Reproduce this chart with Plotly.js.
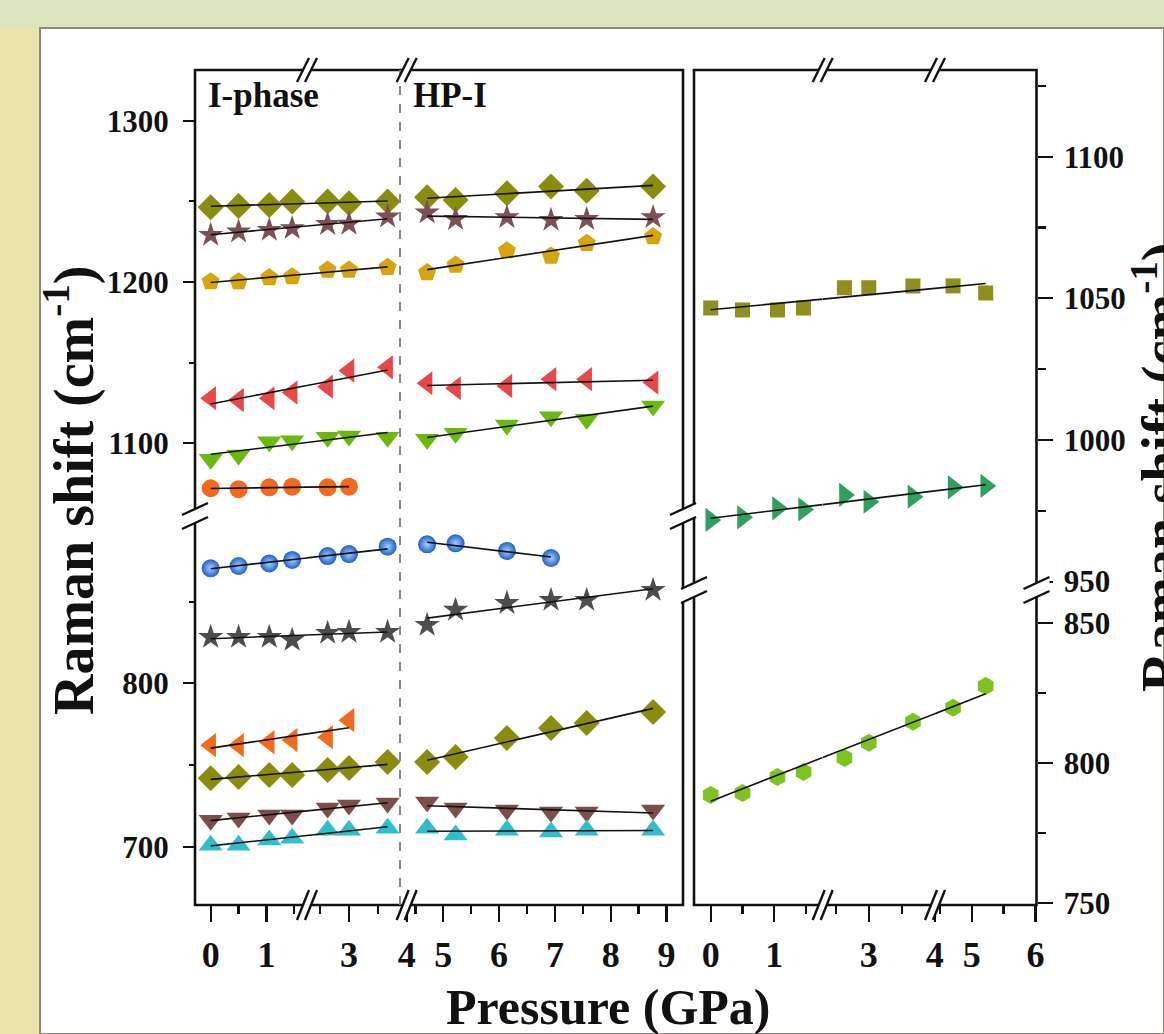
<!DOCTYPE html>
<html><head><meta charset="utf-8">
<script src="https://cdn.plot.ly/plotly-3.0.1.min.js"></script>
<style>html,body{margin:0;padding:0;background:#dde5bf;} #chart{width:1164px;height:1034px;}</style>
</head><body><div id="chart"></div>
<script>
// ---------------- DATA ----------------
// pressures (GPa)
const pI  = [0, 0.5, 1.05, 1.46, 2.63, 3.0, 3.67];          // I-phase
const pHP = [4.71, 5.22, 6.14, 6.93, 7.57, 8.76];           // HP-I
const pR  = [0, 0.5, 1.05, 1.46, 2.63, 3.0, 3.67, 4.71, 5.22]; // right panel

// left panel, upper band (cm-1)
const diamondI   = [1246.3, 1247.1, 1247.7, 1249.8, 1249.8, 1248.8, 1249.8];
const diamondHP  = [1252.5, 1250.8, 1255.0, 1259.1, 1256.6, 1259.1];
const starI      = [1229.1, 1231.2, 1232.2, 1233.3, 1235.8, 1236.0, 1240.5];
const starHP     = [1243.0, 1238.9, 1240.1, 1238.4, 1238.9, 1240.1];
const pentI      = [1200.2, 1200.2, 1202.7, 1203.3, 1207.4, 1207.4, 1209.1];
const pentHP     = [1205.8, 1210.5, 1219.4, 1216.1, 1224.0, 1228.1];
const redTriI    = [1127.9, 1126.8, 1127.9, 1131.4, 1135.1, 1145.0, 1147.1];
const redTriHP   = [1137.2, 1134.1, 1135.5, 1139.7, 1139.7, 1137.6];
const greenTriI  = [1090.1, 1092.7, 1101.0, 1101.6, 1103.7, 1104.5, 1103.7];
const greenTriHP = [1102.5, 1106.2, 1111.3, 1116.5, 1114.9, 1123.1];
const orangeCircI = [1072.1, 1071.5, 1072.7, 1073.1, 1072.7, 1073.1];

// left panel, lower band (cm-1)
const blueI      = [870.4, 871.8, 873.4, 875.5, 877.9, 879.1, 883.6];
const blueHP     = [885.1, 885.7, 881.0, 876.7];
const grayStarI  = [828.3, 828.3, 828.3, 826.5, 830.8, 831.4, 831.4];
const grayStarHP = [835.7, 844.9, 849.1, 851.0, 851.0, 857.1];
const orangeTriI = [762.2, 762.2, 764.0, 765.3, 767.1, 777.5];
const oliveDiaI  = [742.0, 742.7, 743.9, 743.9, 747.0, 748.2, 751.9];
const oliveDiaHP = [751.9, 755.0, 766.6, 772.7, 775.8, 782.5];
const brownTriI  = [716.3, 717.6, 719.4, 719.4, 723.7, 725.6, 726.8];
const brownTriHP = [727.4, 723.7, 722.5, 721.3, 721.3, 722.5];
const cyanTriI   = [701.0, 701.0, 704.1, 705.3, 710.2, 710.2, 711.4];
const cyanTriHP  = [711.4, 707.2, 710.2, 709.0, 710.2, 710.2];

// right panel (cm-1)
const squareR   = [1046.6, 1045.9, 1045.9, 1046.6, 1053.7, 1053.7, 1054.4, 1054.4, 1051.9];
const rightTriR = [971.8, 972.7, 975.9, 975.5, 980.6, 978.2, 980.0, 983.3, 983.8];
const hexR      = [788.7, 789.4, 795.1, 796.9, 801.9, 807.3, 814.8, 819.8, 827.6];

// tick labels
const xTicksA = [0, 1], xTicksB = [3, 4], xTicksC = [5, 6, 7, 8, 9];
const rTicksA = [0, 1], rTicksB = [3, 4], rTicksC = [5, 6];
const yTicksLU = [1100, 1200, 1300], yTicksLL = [700, 800];
const yTicksRU = [950, 1000, 1050, 1100], yTicksRL = [750, 800, 850];

// ---------------- LAYOUT HELPERS ----------------
const W = 1164, H = 1034;
const fx = p => p / W, fy = p => 1 - p / H;
const FONT = 'Liberation Serif, Times New Roman, serif';

const series = [
  {panel:'L', band:'U', x:pI, y:diamondI, sym:'diamond', color:'#8a8c0e', size:20},
  {panel:'L', band:'U', x:pHP, y:diamondHP, sym:'diamond', color:'#8a8c0e', size:20},
  {panel:'L', band:'U', x:pI, y:starI, sym:'star', color:'#7b5056', size:19},
  {panel:'L', band:'U', x:pHP, y:starHP, sym:'star', color:'#7b5056', size:19},
  {panel:'L', band:'U', x:pI, y:pentI, sym:'pentagon', color:'#d6a40c', size:19},
  {panel:'L', band:'U', x:pHP, y:pentHP, sym:'pentagon', color:'#d6a40c', size:19},
  {panel:'L', band:'U', x:pI, y:redTriI, sym:'triangle-left', color:'#e8474c', size:21},
  {panel:'L', band:'U', x:pHP, y:redTriHP, sym:'triangle-left', color:'#e8474c', size:21},
  {panel:'L', band:'U', x:pI, y:greenTriI, sym:'triangle-down', color:'#6cb80f', size:21},
  {panel:'L', band:'U', x:pHP, y:greenTriHP, sym:'triangle-down', color:'#6cb80f', size:21},
  {panel:'L', band:'U', x:pI.slice(0, orangeCircI.length), y:orangeCircI, sym:'circle', color:'#f26a1b', size:18},
  {panel:'L', band:'L', x:pI, y:blueI, sym:'circle', color:'#1f5fc6', size:18, grad:'#a8d0ff'},
  {panel:'L', band:'L', x:pHP.slice(0, blueHP.length), y:blueHP, sym:'circle', color:'#1f5fc6', size:18, grad:'#a8d0ff'},
  {panel:'L', band:'L', x:pI, y:grayStarI, sym:'star', color:'#4d4d4d', size:19},
  {panel:'L', band:'L', x:pHP, y:grayStarHP, sym:'star', color:'#4d4d4d', size:19},
  {panel:'L', band:'L', x:pI.slice(0, orangeTriI.length), y:orangeTriI, sym:'triangle-left', color:'#f26a1b', size:21},
  {panel:'L', band:'L', x:pI, y:oliveDiaI, sym:'diamond', color:'#8a8c0e', size:20},
  {panel:'L', band:'L', x:pHP, y:oliveDiaHP, sym:'diamond', color:'#8a8c0e', size:20},
  {panel:'L', band:'L', x:pI, y:brownTriI, sym:'triangle-down', color:'#7a4e4b', size:21},
  {panel:'L', band:'L', x:pHP, y:brownTriHP, sym:'triangle-down', color:'#7a4e4b', size:21},
  {panel:'L', band:'L', x:pI, y:cyanTriI, sym:'triangle-up', color:'#30bfca', size:21},
  {panel:'L', band:'L', x:pHP, y:cyanTriHP, sym:'triangle-up', color:'#30bfca', size:21},
  {panel:'R', band:'U', x:pR, y:squareR, sym:'square', color:'#8e8f1c', size:15},
  {panel:'R', band:'U', x:pR, y:rightTriR, sym:'triangle-right', color:'#2fa060', size:21},
  {panel:'R', band:'L', x:pR, y:hexR, sym:'hexagon', color:'#7dc21e', size:18},
];

// axis sections: [pixel start, pixel end], value range
const xSecs = {
  L: [
    {id:'x',  dom:[195, 307],   range:[-0.281, 1.726], ticks:xTicksA, minor:[0.5, 1.5]},
    {id:'x2', dom:[307, 406.7], range:[2.272, 4.001],  ticks:xTicksB, minor:[2.5, 3.5]},
    {id:'x3', dom:[406.7, 683], range:[4.344, 9.296],  ticks:xTicksC, minor:[4.5, 5.5, 6.5, 7.5, 8.5]},
  ],
  R: [
    {id:'x4', dom:[694, 822.7],   range:[-0.263, 1.761], ticks:rTicksA, minor:[0.5, 1.5]},
    {id:'x5', dom:[822.7, 935],   range:[2.30, 4.005],   ticks:rTicksB, minor:[2.5, 3.5]},
    {id:'x6', dom:[935, 1035.7],  range:[4.427, 6.002],  ticks:rTicksC, minor:[4.5, 5.5]},
  ]
};
const ySecs = {
  LU: {id:'y',  dom:[70, 516],  range:[1054.9, 1331.4], ticks:yTicksLU, minor:[1150, 1250]},
  LL: {id:'y2', dom:[516, 905], range:[664.4, 902.4],   ticks:yTicksLL, minor:[750, 850]},
  RU: {id:'y3', dom:[70, 590],  range:[947.05, 1130.6], ticks:yTicksRU, minor:[975, 1025, 1075, 1125]},
  RL: {id:'y4', dom:[590, 904], range:[749.75, 861.9],  ticks:yTicksRL, minor:[775, 825]},
};

// least-squares line through the data
function linfit(x, y) {
  const n = x.length;
  const mx = x.reduce((a, b) => a + b, 0) / n, my = y.reduce((a, b) => a + b, 0) / n;
  let sxx = 0, sxy = 0;
  for (let i = 0; i < n; i++) { sxx += (x[i] - mx) ** 2; sxy += (x[i] - mx) * (y[i] - my); }
  const b = sxy / sxx, a = my - b * mx;
  return {x0:x[0], x1:x[n - 1], y0:a + b * x[0], y1:a + b * x[n - 1]};
}
// broken-axis screen position of a pressure value (fit lines are drawn straight on screen)
function secPx(s, p) { return s.dom[0] + (p - s.range[0]) / (s.range[1] - s.range[0]) * (s.dom[1] - s.dom[0]); }
function panelPx(panel, p) {
  const secs = xSecs[panel];
  for (const s of secs) if (p >= s.range[0] && p <= s.range[1]) return secPx(s, p);
  return secPx(secs[0], p);
}

const markerTraces = [], lineTraces = [];
series.forEach(s => {
  const ysec = ySecs[s.panel + s.band];
  const f = linfit(s.x, s.y);
  const P0 = panelPx(s.panel, f.x0), P1 = panelPx(s.panel, f.x1);
  const yAt = px => f.y0 + (px - P0) / (P1 - P0) * (f.y1 - f.y0);
  xSecs[s.panel].forEach(xs => {
    const m = {symbol:s.sym, color:s.color, size:s.size, line:{width:0}};
    if (s.grad) m.gradient = {type:'radial', color:s.grad};
    markerTraces.push({type:'scatter', mode:'markers', x:s.x, y:s.y, xaxis:xs.id, yaxis:ysec.id,
      marker:m, hoverinfo:'skip', cliponaxis:true, showlegend:false});
    const a = Math.max(xs.range[0], f.x0), b = Math.min(xs.range[1], f.x1);
    if (a < b) {
      lineTraces.push({type:'scatter', mode:'lines', x:[a, b], y:[yAt(secPx(xs, a)), yAt(secPx(xs, b))],
        xaxis:xs.id, yaxis:ysec.id, line:{color:'#111', width:1.6}, hoverinfo:'skip', showlegend:false});
    }
  });
});

const layout = {
  width:W, height:H, margin:{l:0, r:0, t:0, b:0},
  paper_bgcolor:'#dde5bf', plot_bgcolor:'rgba(0,0,0,0)',
  showlegend:false, hovermode:false,
  shapes:[], annotations:[]
};

const tickFontX = {family:FONT, size:36, color:'#111', weight:'bold'};
const tickFontY = {family:FONT, size:31, color:'#111', weight:'bold'};

function axKey(id) { return id[0] + 'axis' + id.slice(1); }

let extra = 7;
['L', 'R'].forEach(panel => {
  xSecs[panel].forEach(xs => {
    layout[axKey(xs.id)] = {
      domain:[fx(xs.dom[0]), fx(xs.dom[1])], range:xs.range, anchor:'free', position:fy(905), side:'bottom',
      showgrid:false, zeroline:false, showline:false, fixedrange:true,
      tickmode:'array', tickvals:xs.ticks, ticktext:xs.ticks.map(String),
      ticks:'outside', ticklen:16, tickwidth:2.2, tickcolor:'#111', tickfont:tickFontX, ticklabelstandoff:2,
      minor:{tickmode:'array', tickvals:xs.minor, ticks:'outside', ticklen:8, tickwidth:2.2, tickcolor:'#111'}
    };
    const topId = 'x' + (extra++);
    layout[axKey(topId)] = {
      domain:[fx(xs.dom[0]), fx(xs.dom[1])], range:xs.range, overlaying:xs.id, anchor:'free', position:fy(70), side:'top',
      showgrid:false, zeroline:false, showline:false, fixedrange:true, showticklabels:false,
      tickmode:'array', tickvals:xs.ticks,
      ticks:'inside', ticklen:14, tickwidth:2.2, tickcolor:'#111',
      minor:{tickmode:'array', tickvals:xs.minor, ticks:'inside', ticklen:9, tickwidth:2.2, tickcolor:'#111'}
    };
  });
});

let yextra = 5;
Object.keys(ySecs).forEach(k => {
  const ys = ySecs[k];
  const isLeftPanel = k[0] === 'L';
  const mainPos = isLeftPanel ? fx(195) : fx(1036.5);
  const mirPos = isLeftPanel ? fx(683) : fx(694);
  layout[axKey(ys.id)] = {
    domain:[fy(ys.dom[1]), fy(ys.dom[0])], range:ys.range, anchor:'free', position:mainPos,
    side:isLeftPanel ? 'left' : 'right',
    showgrid:false, zeroline:false, showline:false, fixedrange:true,
    tickmode:'array', tickvals:ys.ticks, ticktext:ys.ticks.map(String),
    ticks:'outside', ticklen:isLeftPanel ? 12 : 15, tickwidth:2.2, tickcolor:'#111', tickfont:tickFontY,
    ticklabelstandoff:isLeftPanel ? 8 : 5,
    minor:{tickmode:'array', tickvals:ys.minor, ticks:'outside', ticklen:isLeftPanel ? 6 : 8, tickwidth:2.2, tickcolor:'#111'}
  };
  const mid = 'y' + (yextra++);
  layout[axKey(mid)] = {
    domain:[fy(ys.dom[1]), fy(ys.dom[0])], range:ys.range, overlaying:ys.id, anchor:'free', position:mirPos,
    side:isLeftPanel ? 'right' : 'left',
    showgrid:false, zeroline:false, showline:false, fixedrange:true, showticklabels:false,
    tickmode:'array', tickvals:ys.ticks,
    ticks:'inside', ticklen:12, tickwidth:2.2, tickcolor:'#111',
    minor:{tickmode:'array', tickvals:ys.minor, ticks:'inside', ticklen:6, tickwidth:2.2, tickcolor:'#111'}
  };
});

// background: frame of the page
const S = layout.shapes;
S.push({type:'rect', xref:'paper', yref:'paper', x0:0, x1:fx(40), y0:0, y1:fy(28), layer:'below',
  fillcolor:'#ece4ad', line:{width:0}});
S.push({type:'rect', xref:'paper', yref:'paper', x0:fx(40), x1:1, y0:0, y1:fy(28), layer:'below',
  fillcolor:'#ffffff', line:{color:'#8f8a78', width:2}});

// panel frames
S.push({type:'rect', xref:'paper', yref:'paper', x0:fx(195), x1:fx(683), y0:fy(905), y1:fy(70),
  line:{color:'#111', width:2.6}, layer:'above'});
S.push({type:'rect', xref:'paper', yref:'paper', x0:fx(694), x1:fx(1036.5), y0:fy(905), y1:fy(70),
  line:{color:'#111', width:2.6}, layer:'above'});

// phase boundary (dashed)
S.push({type:'line', xref:'x2', yref:'paper', x0:3.885, x1:3.885, y0:fy(905), y1:fy(70),
  line:{color:'#8a8a8a', width:2, dash:'dash'}, layer:'above'});

function P(x, y) { return fx(x).toFixed(5) + ',' + fy(y).toFixed(5); }
function xBreak(bx, by, half) {
  const w = 6, g = 4;
  S.push({type:'path', xref:'paper', yref:'paper', layer:'above', fillcolor:'#fff', line:{width:0},
    path:'M' + P(bx - g - w, by + half) + ' L' + P(bx - g + w, by - half) + ' L' + P(bx + g + w, by - half) + ' L' + P(bx + g - w, by + half) + ' Z'});
  [-g, g].forEach(d => S.push({type:'line', xref:'paper', yref:'paper', layer:'above', line:{color:'#111', width:2.4},
    x0:fx(bx + d - w), y0:fy(by + half), x1:fx(bx + d + w), y1:fy(by - half)}));
}
function yBreak(bx, by) {
  const w = 13, h = 6, g = 7;
  S.push({type:'path', xref:'paper', yref:'paper', layer:'above', fillcolor:'#fff', line:{width:0},
    path:'M' + P(bx - w, by - g + h) + ' L' + P(bx + w, by - g - h) + ' L' + P(bx + w, by + g - h) + ' L' + P(bx - w, by + g + h) + ' Z'});
  [-g, g].forEach(d => S.push({type:'line', xref:'paper', yref:'paper', layer:'above', line:{color:'#111', width:2.4},
    x0:fx(bx - w), y0:fy(by + d + h), x1:fx(bx + w), y1:fy(by + d - h)}));
}
[307, 406.7, 822.7, 935].forEach(bx => { xBreak(bx, 905, 15); xBreak(bx, 70, 12); });
yBreak(195, 516); yBreak(683, 516); yBreak(694, 590); yBreak(1036.5, 590);

// text
const A = layout.annotations;
const tf = (size) => ({family:FONT, size:size, color:'#111', weight:'bold'});
A.push({xref:'paper', yref:'paper', x:fx(206), y:fy(95), xanchor:'left', yanchor:'middle', showarrow:false,
  text:'I-phase', font:tf(35)});
A.push({xref:'paper', yref:'paper', x:fx(411), y:fy(95), xanchor:'left', yanchor:'middle', showarrow:false,
  text:'HP-I', font:tf(35)});
A.push({xref:'paper', yref:'paper', x:fx(608), y:fy(1007), xanchor:'center', yanchor:'middle', showarrow:false,
  text:'Pressure (GPa)', font:tf(50)});
A.push({xref:'paper', yref:'paper', x:fx(70), y:fy(490), xanchor:'center', yanchor:'middle', showarrow:false,
  textangle:-90, text:'Raman shift (cm<sup>-1</sup>)', font:tf(56)});
A.push({xref:'paper', yref:'paper', x:fx(1158), y:fy(467), xanchor:'center', yanchor:'middle', showarrow:false,
  textangle:-90, text:'Raman shift (cm<sup>-1</sup>)', font:tf(56)});

Plotly.newPlot('chart', markerTraces.concat(lineTraces), layout, {staticPlot:true, displayModeBar:false});
</script></body></html>
